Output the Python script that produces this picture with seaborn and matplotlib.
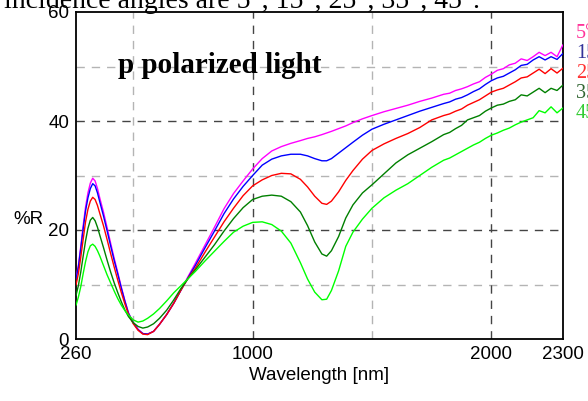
import matplotlib
matplotlib.use("Agg")
import matplotlib.pyplot as plt
import seaborn as sns
import pandas as pd

wavelength = [260, 270, 280, 290, 300, 310, 320, 330, 340, 350, 360, 375, 390, 405, 420, 435,
              450, 465, 480, 500, 520, 540, 560, 585, 610, 640, 670, 700, 730, 760, 800, 840,
              880, 920, 960, 1000, 1040, 1080, 1120, 1160, 1200, 1230, 1260, 1290, 1310, 1330,
              1360, 1390, 1420, 1460, 1500, 1550, 1600, 1650, 1700, 1750, 1800, 1825, 1850,
              1875, 1900, 1925, 1950, 1975, 2000, 2025, 2050, 2075, 2100, 2125, 2150, 2175,
              2200, 2225, 2250, 2275, 2300]

r_5 = [11.2, 13.5, 17.0, 20.8, 24.2, 26.8, 28.6, 29.5, 29.0, 27.6, 25.8, 23.3, 20.5, 17.6, 14.8, 12.2,
       9.5, 7.0, 4.8, 3.0, 1.8, 1.0, 0.9, 1.4, 2.7, 4.5, 6.6, 9.0, 11.5, 13.9, 17.2, 20.5,
       23.9, 26.7, 29.0, 31.2, 33.1, 34.5, 35.3, 35.9, 36.4, 36.8, 37.1, 37.5, 37.8, 38.1,
       38.6, 39.1, 39.7, 40.4, 41.0, 41.7, 42.3, 42.9, 43.6, 44.2, 44.9, 45.1, 45.6,
       45.9, 46.3, 46.8, 47.2, 48.0, 48.6, 49.3, 49.6, 50.3, 50.6, 51.4, 51.1, 51.8,
       52.6, 52.0, 52.6, 51.8, 54.0]
r_15 = [11.0, 13.2, 16.6, 20.2, 23.5, 25.9, 27.6, 28.5, 28.1, 26.8, 25.1, 22.6, 19.9, 17.1, 14.4, 11.9,
        9.3, 6.9, 4.7, 2.9, 1.7, 1.0, 0.9, 1.4, 2.7, 4.5, 6.6, 9.0, 11.3, 13.5, 16.7, 19.8,
        23.0, 25.7, 28.0, 30.0, 31.9, 33.0, 33.6, 33.9, 33.9, 33.6, 33.1, 32.7, 32.7, 33.1,
        34.1, 35.1, 36.1, 37.4, 38.5, 39.4, 40.2, 41.0, 41.8, 42.5, 43.2, 43.5, 44.0,
        44.3, 44.8, 45.4, 45.9, 46.7, 47.4, 47.9, 48.2, 48.8, 49.4, 50.2, 50.4, 51.2,
        51.8, 51.2, 51.8, 51.3, 52.4]
r_25 = [9.9, 12.0, 15.0, 18.3, 21.5, 23.8, 25.3, 26.0, 25.6, 24.5, 23.0, 20.8, 18.3, 15.7, 13.2, 10.8,
        8.5, 6.4, 4.5, 2.8, 1.6, 0.9, 0.8, 1.4, 2.7, 4.5, 6.6, 9.0, 11.2, 13.0, 15.9, 18.7,
        21.5, 24.0, 26.3, 28.1, 29.2, 30.0, 30.4, 30.3, 29.3, 27.9, 26.2, 24.9, 24.7, 25.3,
        27.0, 29.1, 30.9, 33.0, 34.6, 35.8, 36.8, 37.7, 38.8, 40.2, 41.0, 41.3, 41.8,
        42.2, 42.9, 43.4, 43.9, 44.6, 45.3, 45.7, 46.0, 46.6, 47.2, 47.9, 48.1, 48.8,
        49.5, 48.7, 49.6, 48.8, 49.7]
r_35 = [8.0, 9.8, 12.3, 15.2, 18.0, 20.3, 21.8, 22.3, 21.7, 20.5, 19.0, 16.8, 14.5, 12.3, 10.3, 8.5,
        6.8, 5.3, 4.1, 3.0, 2.3, 2.0, 2.2, 2.8, 3.8, 5.3, 7.2, 9.3, 11.1, 12.7, 15.0, 17.3,
        19.8, 22.1, 24.1, 25.6, 26.2, 26.4, 26.2, 25.2, 23.3, 20.8, 17.8, 15.6, 15.2, 16.2,
        18.8, 22.2, 24.6, 26.8, 28.3, 30.3, 32.3, 33.8, 35.0, 36.2, 37.5, 37.9, 38.6,
        39.2, 40.2, 40.6, 41.0, 41.8, 42.4, 42.9, 43.1, 43.6, 43.9, 44.8, 44.6, 45.3,
        46.0, 45.2, 46.0, 45.6, 46.6]
r_45 = [6.2, 7.7, 9.6, 12.0, 14.2, 16.0, 17.1, 17.4, 17.0, 16.2, 15.2, 13.5, 11.8, 10.3, 8.8, 7.4,
        6.2, 5.2, 4.4, 3.5, 3.1, 3.3, 3.8, 4.6, 5.6, 7.0, 8.5, 9.8, 11.1, 12.4, 14.3, 16.1,
        17.9, 19.6, 20.7, 21.4, 21.5, 21.0, 19.8, 17.6, 14.0, 11.0, 8.6, 7.2, 7.3, 8.9,
        12.5, 17.0, 19.6, 22.0, 24.0, 25.9, 27.3, 28.5, 30.0, 31.5, 32.8, 33.2, 33.8,
        34.4, 35.0, 35.6, 36.1, 36.8, 37.4, 37.8, 38.3, 38.7, 39.3, 39.8, 40.2, 40.6,
        41.9, 41.5, 42.6, 41.5, 42.4]

angles = ["5°", "15°", "25°", "35°", "45°"]
series = [r_5, r_15, r_25, r_35, r_45]
line_colors = ["#FF00FF", "#0000FF", "#FF0000", "#008000", "#00FF00"]
label_colors = ["#FF3399", "#333399", "#FF3333", "#336633", "#33CC33"]
x_ticks = [260, 1000, 2000, 2300]
y_ticks = [0, 20, 40, 60]

rows = []
for a, vals in zip(angles, series):
    for w, v in zip(wavelength, vals):
        rows.append({"wl": w, "R": v, "angle": a})
df = pd.DataFrame(rows)

sns.set_style("white")
plt.rcParams["font.family"] = ["Liberation Sans", "DejaVu Sans"]
plt.rcParams["text.color"] = "black"
plt.rcParams["axes.labelcolor"] = "black"

W, H = 588, 401
fig = plt.figure(figsize=(W / 100, H / 100), dpi=100)
ax = fig.add_axes([76 / W, 1 - 339 / H, (563 - 76) / W, (339 - 12) / H])

# grid lines
for xv in [500, 1500]:
    ax.axvline(xv, color="#b4b4b4", lw=1.0, ls=(0, (6, 5)), zorder=0)
for yv in [10, 30, 50]:
    ax.axhline(yv, color="#b4b4b4", lw=1.0, ls=(0, (6, 5)), zorder=0)
for xv in [1000, 2000]:
    ax.axvline(xv, color="#444444", lw=1.0, ls=(0, (6, 5)), zorder=0)
for yv in [20, 40]:
    ax.axhline(yv, color="#444444", lw=1.0, ls=(0, (6, 5)), zorder=0)

sns.lineplot(data=df, x="wl", y="R", hue="angle", palette=line_colors,
             hue_order=angles, legend=False, estimator=None, sort=False,
             lw=1.0, ax=ax, zorder=3)

ax.set_xlim(260, 2300)
ax.set_ylim(0, 60)
ax.set_xticks(x_ticks)
ax.set_xticklabels([str(t) for t in x_ticks])
ax.set_yticks(y_ticks)
ax.set_yticklabels([str(t) for t in y_ticks])
ax.set_yticks([10, 30, 50], minor=True)
ax.tick_params(axis="both", which="both", direction="in", length=4, width=1,
               labelsize=13.5, colors="black", pad=5)
ax.set_xlabel("Wavelength [nm]", fontsize=13.5, labelpad=3)
ax.set_ylabel("%R", fontsize=13.5, rotation=0, labelpad=0)
ax.yaxis.set_label_coords(-0.098, 0.34)
for s in ax.spines.values():
    s.set_color("black")
    s.set_linewidth(1.3)

ax.text((118 - 76) / 487, (339 - 73) / 327, "p polarized light", transform=ax.transAxes,
        fontsize=21, fontweight="bold", family=["Liberation Serif", "DejaVu Serif"],
        color="black", ha="left", va="baseline")

fig.text(480 / W, 1 - 8 / H, "incidence angles are 5°, 15°, 25°, 35°, 45°.",
         fontsize=20, family=["Liberation Serif", "DejaVu Serif"], color="black",
         ha="right", va="baseline")

for i, (a, c) in enumerate(zip(angles, label_colors)):
    yc = 33 + 20 * i
    fig.text(576 / W, 1 - yc / H, a, color=c, fontsize=14.5,
             family=["Liberation Serif", "DejaVu Serif"], ha="left", va="center")

fig.savefig("out.png", dpi=100)
